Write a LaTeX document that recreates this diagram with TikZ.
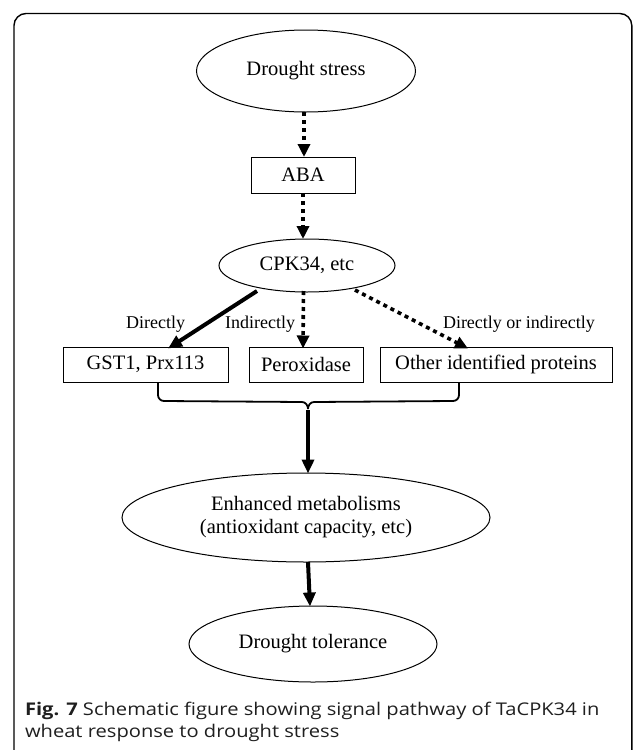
\documentclass[tikz,border=0pt]{standalone}
\usepackage{fontspec}
\setmainfont{Liberation Serif}
\setsansfont{Open Sans}
\newfontfamily\capfam[FakeStretch=1.15]{Open Sans}
\usetikzlibrary{shapes.geometric,arrows.meta,calc}
\begin{document}
\begin{tikzpicture}[x=1pt,y=-1pt,
  every node/.style={inner sep=0pt,outer sep=0pt},
  ell/.style={draw,ellipse,line width=1pt,font=\fontsize{20.5}{23}\selectfont,align=center},
  boxn/.style={draw,rectangle,line width=1pt,font=\fontsize{20.5}{23}\selectfont},
  lab/.style={font=\fontsize{18}{20}\selectfont},
  dotarrow/.style={line width=3.6pt,dash pattern=on 4pt off 4pt,-{Triangle[length=13pt,width=12pt]}},
  solidarrow/.style={line width=4pt,-{Triangle[length=14pt,width=12pt]}},
  capfont/.style={font=\capfam\fontsize{17.5}{20}\selectfont,text=black!88}
]
\useasboundingbox (0,0) rectangle (633,750);
\draw[line width=1.4pt,rounded corners=12pt] (14,770) -- (14,13.5) -- (631.8,13.5) -- (631.8,770);

\node[ell,minimum width=219pt,minimum height=82pt] (ds) at (306,71) {Drought stress};
\node[boxn,minimum width=104pt,minimum height=36pt] (aba) at (303,175) {ABA};
\node[ell,minimum width=176pt,minimum height=53pt] (cpk) at (307,265.5) {CPK34, etc};
\node[boxn,minimum width=165pt,minimum height=35pt] (gst) at (145.5,364.5) {GST1, Prx113};
\node[boxn,minimum width=114pt,minimum height=35pt] (per) at (306,364.5) {Peroxidase};
\node[boxn,minimum width=232pt,minimum height=35pt] (oth) at (496,364.5) {Other identified proteins};
\node[ell,minimum width=368pt,minimum height=89pt] (enh) at (306,517.5) {Enhanced metabolisms\\(antioxidant capacity, etc)};
\node[ell,minimum width=248pt,minimum height=76pt] (tol) at (313,644) {Drought tolerance};

\node[lab,anchor=base east] (l1) at (185,328) {Directly};
\node[lab,anchor=base east] (l2) at (295,328) {Indirectly};
\node[lab,anchor=base west] (l3) at (443,328) {Directly or indirectly};

\draw[dotarrow] ([xshift=-2pt]ds.south) -- ([xshift=1pt]aba.north);
\draw[dotarrow] (aba.south) -- ([xshift=-4pt]cpk.north);
\draw[solidarrow] ([xshift=-50pt,yshift=1pt]cpk.south) -- ([xshift=22.5pt,yshift=-1.5pt]gst.north);
\draw[dotarrow] ([xshift=-3.5pt,yshift=1pt]cpk.south) -- ([xshift=-3pt,yshift=-1.5pt]per.north);
\draw[dotarrow] ([xshift=48pt,yshift=2pt]cpk.south) -- ([xshift=-28pt,yshift=-1.5pt]oth.north);

% bracket
\coordinate (bm) at (308,409);
\draw[line width=1.8pt] ([xshift=12.5pt]gst.south) -- ++(0,13) to[out=-90,in=180] ++(6,6) -- (302,402) to[out=0,in=90] (bm);
\draw[line width=1.8pt] ([xshift=-37pt]oth.south) -- ++(0,13) to[out=-90,in=0] ++(-6,6) -- (314,402) to[out=180,in=90] (bm);
\draw[solidarrow] ([yshift=-1pt]bm) -- ([xshift=2pt,yshift=-0.5pt]enh.north);
\draw[solidarrow] ([xshift=2pt]enh.south) -- ([xshift=-3pt,yshift=-0.5pt]tol.north);

\node[capfont,anchor=base west] (c1) at (25,715) {\textbf{Fig. 7} Schematic figure showing signal pathway of TaCPK34 in};
\node[capfont,anchor=base west] (c2) at (25,737) {wheat response to drought stress};
\end{tikzpicture}
\end{document}
